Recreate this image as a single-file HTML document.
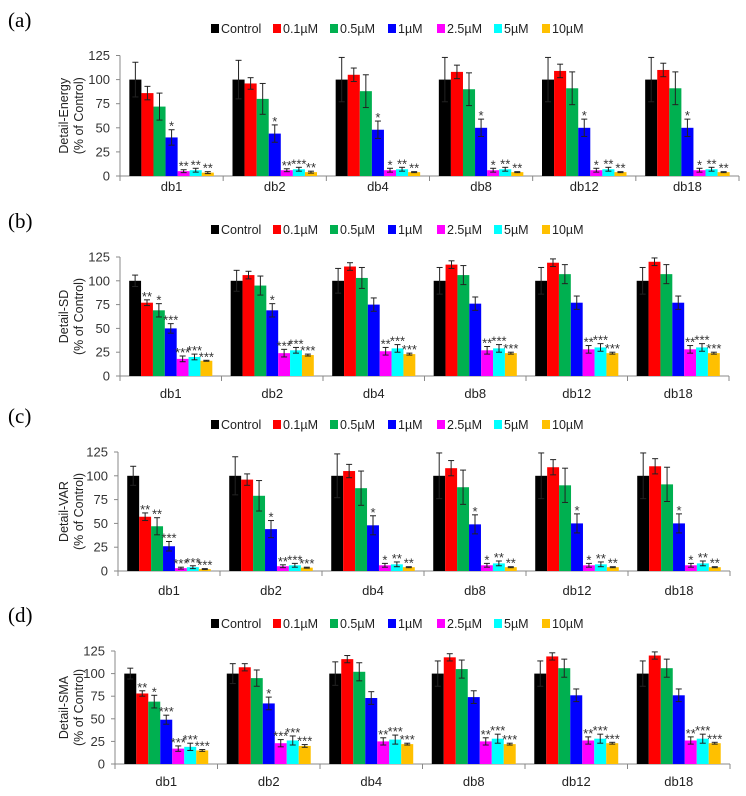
<!DOCTYPE html>
<html><head><meta charset="utf-8">
<style>
html,body{margin:0;padding:0;background:#fff;}
svg{display:block;font-family:"Liberation Sans",sans-serif;}
</style></head>
<body>
<svg id="chart" width="746" height="796" viewBox="0 0 746 796"></svg>
<script>
const categories = ["db1","db2","db4","db8","db12","db18"];
const seriesNames = ["Control","0.1µM","0.5µM","1µM","2.5µM","5µM","10µM"];
const seriesColors = ["#000000","#ff0000","#00b050","#0000ff","#ff00ff","#00ffff","#ffc000"];
const yTicks = [0,25,50,75,100,125];

const energyValues = [[100,86,72,40,5,6,3.5],[100,96,80,44,6,7,4],[100,105,88,48,6,7,4],[100,108,90,50,6,7,4],[100,109,91,50,6,7,4],[100,110,91,50,6,7,4]];
const energyErrors = [[18,7,14,8,1.5,2,1],[20,6,16,9,1.5,2,1],[23,7,17,9,2,2,0.5],[23,7,17,9,2,2,0.5],[23,7,17,9,2,2,0.5],[23,7,17,9,2,2,0.5]];
const energyStars = [["","","","*","**","**","**"],["","","","*","**","***","**"],["","","","*","*","**","**"],["","","","*","*","**","**"],["","","","*","*","**","**"],["","","","*","*","**","**"]];

const sdValues = [[100,77,69,50,18,20,16],[100,106,95,69,24,27,22],[100,115,103,75,26,29,23],[100,117,106,76,27,29,24],[100,119,107,77,28,30,24],[100,120,107,77,28,30,24]];
const sdErrors = [[6,3,7,5,3,3,0.5],[11,4,10,7,4,3,1],[13,4,11,7,4,4,1],[14,4,10,7,4,4,1],[14,4,10,7,4,4,1],[14,4,10,7,4,4,1]];
const sdStars = [["","**","*","***","***","***","***"],["","","","*","***","***","***"],["","","","","**","***","***"],["","","","","**","***","***"],["","","","","**","***","***"],["","","","","**","***","***"]];

const varValues = [[100,57,47,26,3,4,2],[100,96,79,44,5,6,3.5],[100,105,87,48,6,7,4],[100,108,88,49,6,8,4],[100,109,90,50,6,7,4],[100,110,91,50,6,8,4]];
const varErrors = [[10,4,9,5,1,1.5,0.5],[20,6,16,9,1.5,2,0.5],[23,7,18,10,2,2.5,0.5],[24,8,18,10,2,2.5,0.5],[24,8,18,10,2,2.5,0.5],[24,8,18,10,2,2.5,0.5]];
const varStars = [["","**","**","***","***","***","***"],["","","","*","**","***","***"],["","","","*","*","**","**"],["","","","*","*","**","**"],["","","","*","*","**","**"],["","","","*","*","**","**"]];

const smaValues = [[100,78,69,49,17,19,15],[100,107,95,67,23,26,20],[100,116,102,73,25,27,22],[100,118,105,74,25,28,22],[100,119,106,76,26,28,23],[100,120,106,76,26,28,23]];
const smaErrors = [[6,3,7,5,3,4,1],[11,4,9,7,4,5,1.5],[13,4,10,7,4,5,1],[14,4,10,7,4,5,1],[14,4,10,7,4,5,1],[14,4,10,7,4,5,1]];
const smaStars = [["","**","*","***","***","***","***"],["","","","*","***","***","***"],["","","","","**","***","***"],["","","","","**","***","***"],["","","","","**","***","***"],["","","","","**","***","***"]];

const panels = [
 {tag:"(a)",title:"Detail-Energy",key:"energy",values:energyValues,errors:energyErrors,stars:energyStars,top:55.5,bottom:176,x0:120,x1:739,legendY:29,labelY:191},
 {tag:"(b)",title:"Detail-SD",key:"sd",values:sdValues,errors:sdErrors,stars:sdStars,top:257,bottom:376,x0:120,x1:729,legendY:230,labelY:398},
 {tag:"(c)",title:"Detail-VAR",key:"var",values:varValues,errors:varErrors,stars:varStars,top:452,bottom:571,x0:118,x1:730,legendY:425,labelY:595},
 {tag:"(d)",title:"Detail-SMA",key:"sma",values:smaValues,errors:smaErrors,stars:smaStars,top:651,bottom:764,x0:115,x1:730,legendY:624,labelY:786}
];
const legendX = [211,273,330,388,437,494,542];

const NS="http://www.w3.org/2000/svg";
const svg=document.getElementById("chart");
function mk(tag,attrs,parent){const e=document.createElementNS(NS,tag);for(const k in attrs)e.setAttribute(k,attrs[k]);(parent||svg).appendChild(e);return e;}

panels.forEach(p=>{
  const g=mk("g",{});
  
  
  const yScale=v=>p.bottom-(v/125)*(p.bottom-p.top);
  const gw=(p.x1-p.x0)/categories.length;
  const bw=gw*0.117;
  const pad=(gw-7*bw)/2;
  const xBar=(ci,si)=>p.x0+ci*gw+pad+si*bw;

  const tag=mk("text",{x:8,y:p.legendY-2,"font-family":"Liberation Serif,serif","font-size":21,fill:"#000"},g);
  tag.textContent=p.tag;
  
  

  seriesNames.forEach((n,i)=>{
    const le=mk("g",{},g);
    
    
    mk("rect",{x:legendX[i],y:p.legendY-5,width:8,height:9,fill:seriesColors[i]},le);
    const t=mk("text",{x:legendX[i]+10,y:p.legendY+4,"font-size":12.5,fill:"#222"},le);
    t.textContent=n;
  });

  const cy=(p.top+p.bottom)/2;
  const yt=mk("text",{transform:`translate(68,${cy}) rotate(-90)`,"text-anchor":"middle","font-size":12.5,fill:"#222"},g);
  
  
  const t1=mk("tspan",{x:0,dy:0},yt);t1.textContent=p.title;
  const t2=mk("tspan",{x:0,dy:15},yt);t2.textContent="(% of Control)";

  mk("line",{x1:p.x0,y1:p.top,x2:p.x0,y2:p.bottom,stroke:"#888","stroke-width":1},g);
  yTicks.forEach(v=>{
    const y=yScale(v);
    mk("line",{x1:p.x0-4,y1:y,x2:p.x0,y2:y,stroke:"#888"},g);
    const t=mk("text",{x:p.x0-10,y:y+4.5,"text-anchor":"end","font-size":13,fill:"#333"},g);
    t.textContent=v;
    
    
  });
  mk("line",{x1:p.x0,y1:p.bottom,x2:p.x1,y2:p.bottom,stroke:"#888"},g);
  for(let i=0;i<=categories.length;i++){
    const x=p.x0+i*gw;
    mk("line",{x1:x,y1:p.bottom,x2:x,y2:p.bottom+5,stroke:"#888"},g);
  }
  categories.forEach((c,ci)=>{
    const t=mk("text",{x:p.x0+ci*gw+gw/2,y:p.labelY,"text-anchor":"middle","font-size":13,fill:"#222"},g);
    t.textContent=c;
    
    
  });

  categories.forEach((c,ci)=>{
    seriesNames.forEach((s,si)=>{
      const v=p.values[ci][si], e=p.errors[ci][si];
      const x=xBar(ci,si), y=yScale(v);
      const r=mk("rect",{x:x,y:y,width:bw,height:p.bottom-y,fill:seriesColors[si]},g);
      
      
      const cx=x+bw/2, yh=yScale(v+e), yl=yScale(v-e);
      mk("line",{x1:cx,y1:yh,x2:cx,y2:yl,stroke:"#222","stroke-width":1},g);
      mk("line",{x1:cx-3,y1:yh,x2:cx+3,y2:yh,stroke:"#222","stroke-width":1},g);
      mk("line",{x1:cx-3,y1:yl,x2:cx+3,y2:yl,stroke:"#222","stroke-width":1},g);
      const st=p.stars[ci][si];
      if(st){
        const t=mk("text",{x:cx,y:yh+1,"text-anchor":"middle","font-size":13,fill:"#333"},g);
        t.textContent=st;
        
        
      }
    });
  });
});
</script>
</body></html>
